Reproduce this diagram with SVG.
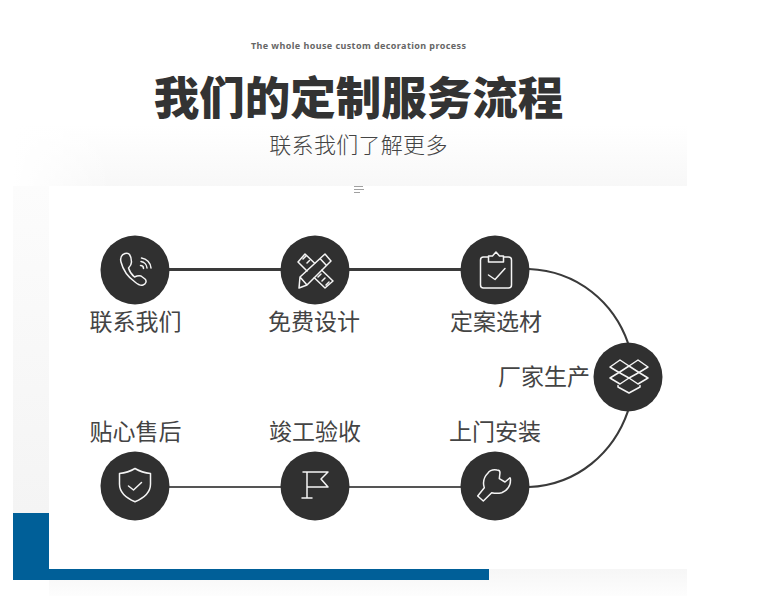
<svg xmlns="http://www.w3.org/2000/svg" width="774" height="596" viewBox="0 0 774 596">
<style>
.cjk{font-family:"Noto Sans CJK SC","Noto Sans",sans-serif;fill:#333}
.lb{font-size:23px;text-anchor:middle;font-weight:400;fill:#444}
.dot{fill:#303030}
.ic{fill:none;stroke:#f4f4f4;stroke-width:1.5;stroke-linejoin:round;stroke-linecap:round}
.ln{fill:none;stroke:#3a3a3a}
</style>
<defs>
<linearGradient id="bgTop" x1="0" y1="0" x2="0" y2="1"><stop offset="0" stop-color="#fff"/><stop offset="1" stop-color="#f7f7f7"/></linearGradient>
<linearGradient id="fade" x1="0" y1="0" x2="1" y2="0"><stop offset="0" stop-color="#fff"/><stop offset="1" stop-color="#fff" stop-opacity="0"/></linearGradient>
<linearGradient id="bgLeft" x1="0" y1="0" x2="0" y2="1"><stop offset="0" stop-color="#fcfcfc"/><stop offset="1" stop-color="#f4f4f4"/></linearGradient>
<linearGradient id="bgBot" x1="0" y1="0" x2="0" y2="1"><stop offset="0" stop-color="#f6f6f6"/><stop offset="1" stop-color="#fdfdfd"/></linearGradient>
</defs>
<rect width="774" height="596" fill="#fff"/>
<rect x="13" y="125" width="674" height="65" fill="url(#bgTop)"/>
<rect x="13" y="125" width="100" height="65" fill="url(#fade)"/>
<rect x="13" y="186" width="36" height="327" fill="url(#bgLeft)"/>
<rect x="49" y="569" width="638" height="27" fill="url(#bgBot)"/>
<rect x="49" y="186" width="638" height="383" fill="#fff"/>
<path d="M13 513H49V569H489V580H13Z" fill="#005f98"/>
<text x="358.500" y="49" text-anchor="middle" font-family="'Noto Sans','Noto Sans CJK SC',sans-serif" font-size="9" font-weight="700" fill="#666" textLength="215" lengthAdjust="spacing">The whole house custom decoration process</text>
<text x="358.500" y="115" text-anchor="middle" class="cjk" font-size="45.500" font-weight="900">我们的定制服务流程</text>
<text x="358.500" y="153" text-anchor="middle" class="cjk" font-size="22" font-weight="300" letter-spacing="0.300" style="fill:#444">联系我们了解更多</text>
<path d="M354 186.500H363M354 189.500H364M354 192.500H360" fill="none" stroke="#888" stroke-width="0.800"/>
<g id="connectors">
<path class="ln" stroke-width="2.800" d="M169 269.500H281M349 269.500H461"/>
<path class="ln" stroke-width="2.200" d="M529 269C578 271 614 303 628 343"/>
<path class="ln" stroke-width="2" style="stroke:#555" d="M169 487H281M349 487H461"/>
<path class="ln" stroke-width="2.200" d="M529 487C578 485 614 452 628 411"/>
</g>
<g id="node-contact">
<circle class="dot" cx="135" cy="270" r="34.500"/>
<path class="ic" stroke-width="1.800" d="M125 253.500C121 255 120 258 121 262C123 270 128 277 135 282C138 284.500 141 286 143 285C146 284 147 281 145 279L141 276C138.500 275 136.500 276 134.500 277C131.500 274.500 129.500 271.500 128.500 268C130 266.500 131.500 264.500 131.500 262C131.500 259 131 256.500 129.500 254.500C128.500 253 126.500 253 125 253.500Z"/>
<path class="ic" d="M140.500 265.500a3 3 0 0 1 3 3M141 261.500a7 7 0 0 1 6 6.500M141.500 258a11 11 0 0 1 9.500 10"/>
<text class="cjk lb" x="135.500" y="330">联系我们</text>
</g>
<g id="node-design">
<circle class="dot" cx="315" cy="270" r="34.500"/>
<path class="ic" d="M307 271L298 262L305 254L314.700 263.300M303 259l3-3M307 263l2.500-2.500M314.300 277.700L325 288L333 281L321.800 270.200M322 281l3-3M326 285l3-3M318 277l3-3"/>
<path class="ic" d="M300 277L325 254L331 261L307 285L299 288ZM320 258.500L326.500 265.500M300 277L307 285"/>
<text class="cjk lb" x="314" y="330">免费设计</text>
</g>
<g id="node-material">
<circle class="dot" cx="495" cy="270" r="34.500"/>
<path class="ic" stroke-width="2" d="M488.500 257h-5q-3 0-3 3v25q0 3 3 3h25q3 0 3-3v-25q0-3-3-3h-5"/>
<path class="ic" stroke-width="1.800" d="M488.500 262v-6h4l3.500-4l3.500 4h4v6Z"/>
<path class="ic" stroke-width="1.800" d="M488.500 275l6.500 4.500l10-11"/>
<text class="cjk lb" x="496" y="330">定案选材</text>
</g>
<g id="node-production">
<circle class="dot" cx="628" cy="377" r="34.500"/>
<path class="ic" stroke-width="2.200" d="M620 360L629 366L638 360L648 367L639 372.500L648 378L638 384L629 378L620 384L610 378L619 372.500L610 367ZM619 372.500L629 366L639 372.500L629 378Z"/>
<path class="ic" stroke-width="2.200" d="M618 385.500V387L629 393L640 387V385.500"/>
<text class="cjk lb" x="544" y="385">厂家生产</text>
</g>
<g id="node-install">
<circle class="dot" cx="495" cy="486" r="34.500"/>
<path class="ic" stroke-width="1.300" d="M477.700 496L483.300 501L491.700 492.700C495 493.500 498.500 493.500 501.700 492.700C507 490.500 510.500 486 510.500 480C510.500 479 510.300 478 510 477.700L505 482L499.300 478.700L500 472.700C500 471 499 470 497 470C493.500 469.500 490 470 488 473C485 476 483.500 479 483.500 483C483.500 485 484 486.500 484.300 487.700Z"/>
<text class="cjk lb" x="495" y="440">上门安装</text>
</g>
<g id="node-acceptance">
<circle class="dot" cx="315" cy="486" r="34.500"/>
<path class="ic" d="M303 472H328L321 479L328 487H307M307 472V498M302 498H312"/>
<text class="cjk lb" x="315" y="440">竣工验收</text>
</g>
<g id="node-aftersale">
<circle class="dot" cx="135" cy="486" r="34.500"/>
<path class="ic" stroke-width="1.800" d="M135 468.500C140 471.500 145 473 150.500 473.500V484C150.500 492 144 498 135 501.700C126 498 119.500 492 119.500 484V473.500C125 473 130 471.500 135 468.500Z"/>
<path class="ic" stroke-width="2.400" d="M128.500 486l5 4l8-7.500"/>
<text class="cjk lb" x="135.500" y="440">贴心售后</text>
</g>
</svg>
